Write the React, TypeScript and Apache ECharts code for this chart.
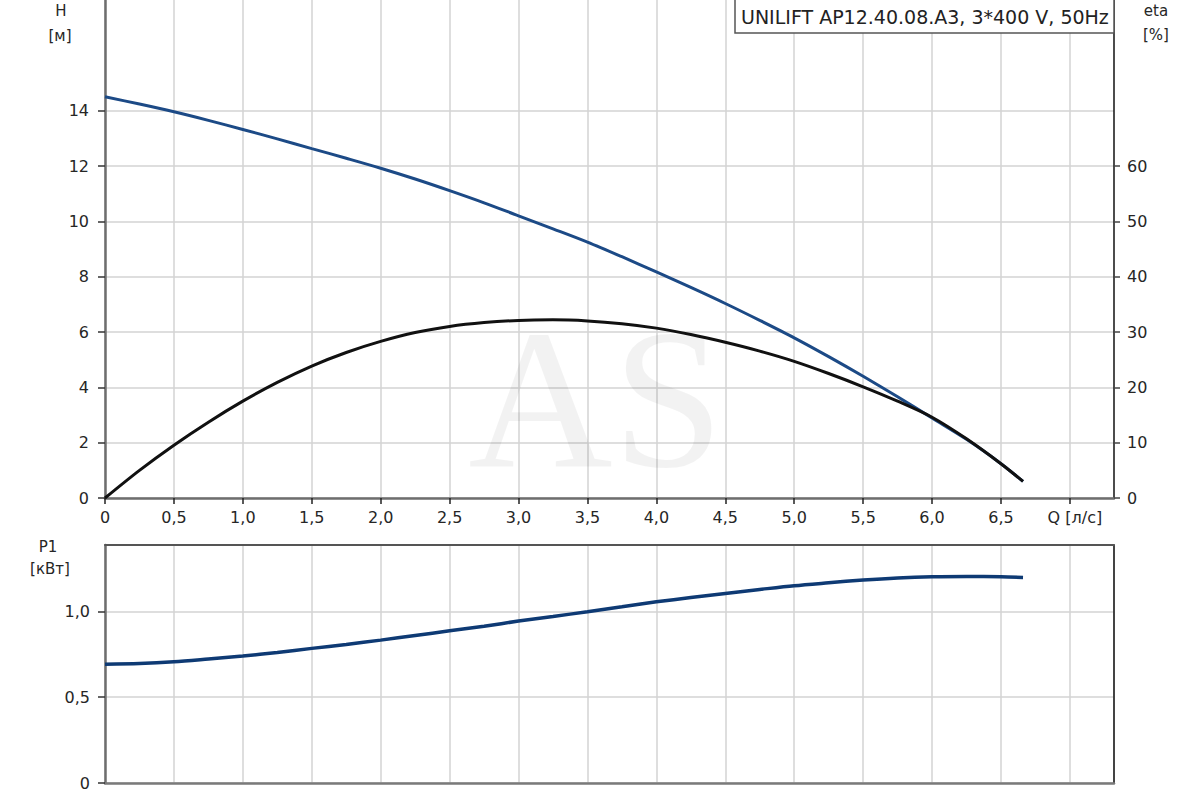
import React, { useEffect, useRef } from "react";
import * as echarts from "echarts";

// ---- data ----
const flowQ = [
  0, 0.25, 0.5, 0.75, 1.0, 1.25, 1.5, 1.75, 2.0, 2.25, 2.5, 2.75, 3.0, 3.25,
  3.5, 3.75, 4.0, 4.25, 4.5, 4.75, 5.0, 5.25, 5.5, 5.75, 6.0, 6.25, 6.5, 6.66,
];
const headH = [
  14.5, 14.24, 13.96, 13.65, 13.32, 12.98, 12.63, 12.28, 11.92, 11.53, 11.11, 10.67, 10.2, 9.73,
  9.25, 8.72, 8.17, 7.61, 7.03, 6.42, 5.79, 5.11, 4.4, 3.66, 2.89, 2.12, 1.24, 0.6,
];
const effEta = [
  0, 5.0, 9.55, 13.7, 17.5, 20.9, 23.85, 26.3, 28.3, 29.9, 31.0, 31.7, 32.1, 32.2,
  32.0, 31.5, 30.7, 29.55, 28.15, 26.55, 24.7, 22.5, 20.1, 17.5, 14.6, 10.7, 6.2, 3.0,
];
const powerP1 = [
  0.692, 0.696, 0.706, 0.722, 0.739, 0.76, 0.784, 0.807, 0.832, 0.859, 0.886, 0.913, 0.943, 0.97,
  0.997, 1.026, 1.055, 1.08, 1.104, 1.127, 1.149, 1.166, 1.182, 1.194, 1.201, 1.203, 1.201, 1.197,
];

const qTicks = [0, 0.5, 1, 1.5, 2, 2.5, 3, 3.5, 4, 4.5, 5, 5.5, 6, 6.5, 7];
const hTicks = [0, 2, 4, 6, 8, 10, 12, 14];
const etaTicks = [0, 10, 20, 30, 40, 50, 60];
const p1Ticks = [0, 0.5, 1.0];

const legendText = "UNILIFT AP12.40.08.A3, 3*400 V, 50Hz";
const qAxisName = "Q [л/с]";
const watermark = "AS";

const FONT = "DejaVu Sans";
const TXT = "#262626";
const GRIDC = "#d3d3d3";

const fmtComma = (v: number) => (v === 0 ? "0" : v.toFixed(1).replace(".", ","));

export default function App() {
  const ref = useRef<HTMLDivElement>(null);

  useEffect(() => {
    if (!ref.current) return;
    const chart = echarts.init(ref.current, undefined, { renderer: "svg" });

    const pairs = (ys: number[]) => flowQ.map((q, i) => [q, ys[i]]);

    const tickLabel = { color: TXT, fontFamily: FONT, fontSize: 16 };

    const option: any = {
      animation: false,
      backgroundColor: "#ffffff",
      grid: [
        { left: 105, right: 86, top: 0, height: 498 },
        { left: 105, right: 86, top: 545, height: 238 },
      ],
      xAxis: [
        {
          type: "value",
          gridIndex: 0,
          min: 0,
          max: 7.32,
          interval: 0.5,
          axisLine: { show: true, onZero: false, lineStyle: { color: "#6e6e6e", width: 2.5 } },
          axisTick: { show: true, length: 6, customValues: qTicks, lineStyle: { color: "#222", width: 1.5 } },
          axisLabel: {
            ...tickLabel,
            margin: 11,
            customValues: qTicks,
            formatter: (v: number) => (v === 7 ? "{q|" + qAxisName + "}" : fmtComma(v)),
            rich: { q: { color: TXT, fontFamily: FONT, fontSize: 16, padding: [0, 0, 0, 10] } },
          },
          splitLine: { show: true, lineStyle: { color: GRIDC, width: 1.5 } },
        },
        {
          type: "value",
          gridIndex: 1,
          min: 0,
          max: 7.32,
          interval: 0.5,
          axisLine: { show: true, onZero: false, lineStyle: { color: "#7a7a7a", width: 2.5 } },
          axisTick: { show: false },
          axisLabel: { show: false },
          splitLine: { show: true, lineStyle: { color: GRIDC, width: 1.5 } },
        },
        {
          type: "value",
          gridIndex: 1,
          position: "top",
          min: 0,
          max: 7.32,
          interval: 0.5,
          axisLine: { show: true, onZero: false, lineStyle: { color: "#555", width: 2 } },
          axisTick: { show: false },
          axisLabel: { show: false },
          splitLine: { show: false },
        },
      ],
      yAxis: [
        {
          type: "value",
          gridIndex: 0,
          min: 0,
          max: 18,
          interval: 2,
          axisLine: { show: true, onZero: false, lineStyle: { color: "#6e6e6e", width: 2.5 } },
          axisTick: { show: true, length: 7, customValues: hTicks, lineStyle: { color: "#333", width: 1.5 } },
          axisLabel: { ...tickLabel, margin: 16, customValues: hTicks, formatter: (v: number) => String(v) },
          splitLine: { show: true, lineStyle: { color: GRIDC, width: 1.5 } },
        },
        {
          type: "value",
          gridIndex: 0,
          position: "right",
          min: 0,
          max: 90,
          interval: 10,
          axisLine: { show: true, onZero: false, lineStyle: { color: "#111", width: 1.5 } },
          axisTick: { show: true, length: 6, customValues: etaTicks, lineStyle: { color: "#444", width: 1.5 } },
          axisLabel: { ...tickLabel, margin: 13, customValues: etaTicks, formatter: (v: number) => String(v) },
          splitLine: { show: false },
        },
        {
          type: "value",
          gridIndex: 1,
          min: 0,
          max: 1.386,
          interval: 0.5,
          axisLine: { show: true, onZero: false, lineStyle: { color: "#6e6e6e", width: 2.5 } },
          axisTick: { show: true, length: 7, customValues: p1Ticks, lineStyle: { color: "#333", width: 1.5 } },
          axisLabel: { ...tickLabel, margin: 15, customValues: p1Ticks, formatter: (v: number) => fmtComma(v) },
          splitLine: { show: true, lineStyle: { color: GRIDC, width: 1.5 } },
        },
        {
          type: "value",
          gridIndex: 1,
          position: "right",
          min: 0,
          max: 1.386,
          interval: 0.5,
          axisLine: { show: true, onZero: false, lineStyle: { color: "#111", width: 1.5 } },
          axisTick: { show: false },
          axisLabel: { show: false },
          splitLine: { show: false },
        },
      ],
      series: [
        {
          name: "H",
          type: "line",
          xAxisIndex: 0,
          yAxisIndex: 0,
          data: pairs(headH),
          smooth: 0.3,
          showSymbol: false,
          lineStyle: { color: "#1c4a86", width: 3 },
          z: 3,
        },
        {
          name: "eta",
          type: "line",
          xAxisIndex: 0,
          yAxisIndex: 1,
          data: pairs(effEta),
          smooth: 0.3,
          showSymbol: false,
          lineStyle: { color: "#111111", width: 3 },
          z: 4,
        },
        {
          name: "P1",
          type: "line",
          xAxisIndex: 1,
          yAxisIndex: 2,
          data: pairs(powerP1),
          smooth: 0.3,
          showSymbol: false,
          lineStyle: { color: "#0e3a74", width: 3.5 },
          z: 3,
        },
      ],
      graphic: [
        {
          type: "text",
          silent: true,
          z: 1,
          x: 596,
          y: 398,
          style: {
            text: watermark,
            fontFamily: "Liberation Serif",
            fontSize: 200,
            fill: "rgba(0,0,0,0.05)",
            align: "center",
            verticalAlign: "middle",
          },
        },
        {
          type: "rect",
          z: 100,
          shape: { x: 735, y: -2, width: 379, height: 35 },
          style: { fill: "#ffffff", stroke: "#555", lineWidth: 1.5 },
        },
        {
          type: "text",
          z: 101,
          x: 741,
          y: 17,
          style: { text: legendText, fontFamily: FONT, fontSize: 19, fill: "#222", verticalAlign: "middle" },
        },
        { type: "text", x: 61, y: 11, style: { text: "H", fontFamily: FONT, fontSize: 15, fill: TXT, align: "center", verticalAlign: "middle" } },
        { type: "text", x: 60, y: 36, style: { text: "[м]", fontFamily: FONT, fontSize: 15, fill: TXT, align: "center", verticalAlign: "middle" } },
        { type: "text", x: 1156, y: 11, style: { text: "eta", fontFamily: FONT, fontSize: 15, fill: TXT, align: "center", verticalAlign: "middle" } },
        { type: "text", x: 1156, y: 35, style: { text: "[%]", fontFamily: FONT, fontSize: 15, fill: TXT, align: "center", verticalAlign: "middle" } },
        { type: "text", x: 48, y: 547, style: { text: "P1", fontFamily: FONT, fontSize: 15, fill: TXT, align: "center", verticalAlign: "middle" } },
        { type: "text", x: 50, y: 569, style: { text: "[кВт]", fontFamily: FONT, fontSize: 15, fill: TXT, align: "center", verticalAlign: "middle" } },
      ],
    };

    chart.setOption(option);
    return () => chart.dispose();
  }, []);

  return (
    <div
      ref={ref}
      style={{ position: "absolute", left: 0, top: 0, width: 1200, height: 800, background: "#fff" }}
    />
  );
}
